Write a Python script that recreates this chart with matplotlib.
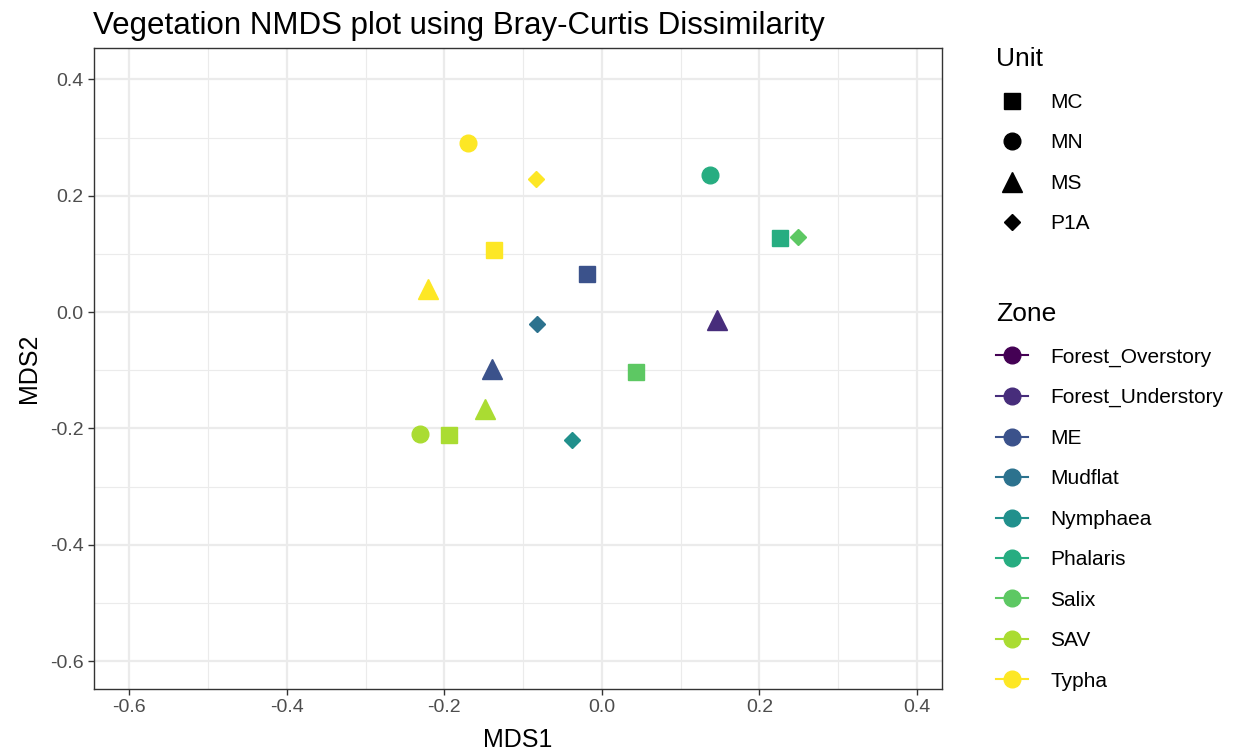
import matplotlib
matplotlib.use("Agg")
import matplotlib.pyplot as plt
from matplotlib.lines import Line2D
from matplotlib.ticker import MultipleLocator

plt.rcParams['font.family'] = ['Liberation Sans', 'DejaVu Sans']

# NMDS scores
zones = ["Typha", "Typha", "Phalaris", "Phalaris", "Salix", "Typha", "ME", "Typha",
         "Forest_Understory", "Mudflat", "ME", "Salix", "SAV", "SAV", "SAV", "Nymphaea"]
units = ["MN", "P1A", "MN", "MC", "P1A", "MC", "MC", "MS",
         "MS", "P1A", "MS", "MC", "MS", "MN", "MC", "P1A"]
mds1 = [-0.170, -0.084, 0.137, 0.226, 0.249, -0.137, -0.019, -0.221,
        0.146, -0.083, -0.140, 0.043, -0.149, -0.231, -0.194, -0.038]
mds2 = [0.290, 0.229, 0.235, 0.127, 0.129, 0.107, 0.065, 0.040,
        -0.014, -0.021, -0.098, -0.103, -0.167, -0.210, -0.211, -0.220]

zone_levels = ["Forest_Overstory", "Forest_Understory", "ME", "Mudflat", "Nymphaea",
               "Phalaris", "Salix", "SAV", "Typha"]
unit_levels = ["MC", "MN", "MS", "P1A"]

viridis9 = ["#440154", "#472D7B", "#3B528B", "#2C728E", "#21908C",
            "#27AD81", "#5DC863", "#AADC32", "#FDE725"]
zone_color = dict(zip(zone_levels, viridis9))
unit_marker = {"MC": ("s", 12), "MN": ("o", 12), "MS": ("^", 14), "P1A": ("D", 8)}

fig = plt.figure(figsize=(12.35, 7.53), dpi=100)
ax = fig.add_axes([0.0761, 0.0850, 0.6867, 0.8513])

for x, y, z, u in zip(mds1, mds2, zones, units):
    m, ms = unit_marker[u]
    ax.plot(x, y, marker=m, markersize=ms, color=zone_color[z], linestyle='none', zorder=3)

ax.set_xlim(-0.645, 0.432)
ax.set_ylim(-0.648, 0.454)
ax.xaxis.set_major_locator(MultipleLocator(0.2))
ax.yaxis.set_major_locator(MultipleLocator(0.2))
ax.xaxis.set_minor_locator(MultipleLocator(0.1))
ax.yaxis.set_minor_locator(MultipleLocator(0.1))
ax.grid(which='major', color='#EBEBEB', linewidth=1.6)
ax.grid(which='minor', color='#EBEBEB', linewidth=0.8)
ax.set_axisbelow(True)
ax.tick_params(which='minor', length=0)
ax.tick_params(which='major', length=4, width=1, color='#333333',
               labelsize=14, labelcolor='#4D4D4D')
ax.xaxis.set_major_formatter(plt.FuncFormatter(lambda v, p: f"{v:.1f}"))
ax.yaxis.set_major_formatter(plt.FuncFormatter(lambda v, p: f"{v:.1f}"))
for s in ax.spines.values():
    s.set_color('#333333')
    s.set_linewidth(1)

ax.set_xlabel("MDS1", fontsize=18, labelpad=8)
ax.set_ylabel("MDS2", fontsize=18, labelpad=6)
ax.set_title("Vegetation NMDS plot using Bray-Curtis Dissimilarity",
             fontsize=22.5, loc='left', x=-0.001, pad=10)

unit_handles = [Line2D([], [], marker=unit_marker[u][0], markersize=unit_marker[u][1],
                       color='black', linestyle='none') for u in unit_levels]
leg1 = fig.legend(unit_handles, unit_levels, title="Unit", loc='upper left',
                  bbox_to_anchor=(0.800, 0.948), frameon=False, fontsize=15,
                  title_fontsize=19, labelspacing=1.03, handletextpad=1.1,
                  handlelength=1.5, borderaxespad=0)
leg1._legend_box.align = "left"

zone_handles = [Line2D([], [], marker='o', markersize=12, color=zone_color[z],
                       linestyle='-', linewidth=1.5) for z in zone_levels]
leg2 = fig.legend(zone_handles, zone_levels, title="Zone", loc='upper left',
                  bbox_to_anchor=(0.800, 0.610), frameon=False, fontsize=15,
                  title_fontsize=19, labelspacing=1.03, handletextpad=1.1,
                  handlelength=1.5, borderaxespad=0)
leg2._legend_box.align = "left"

fig.savefig("out.png", dpi=100)
